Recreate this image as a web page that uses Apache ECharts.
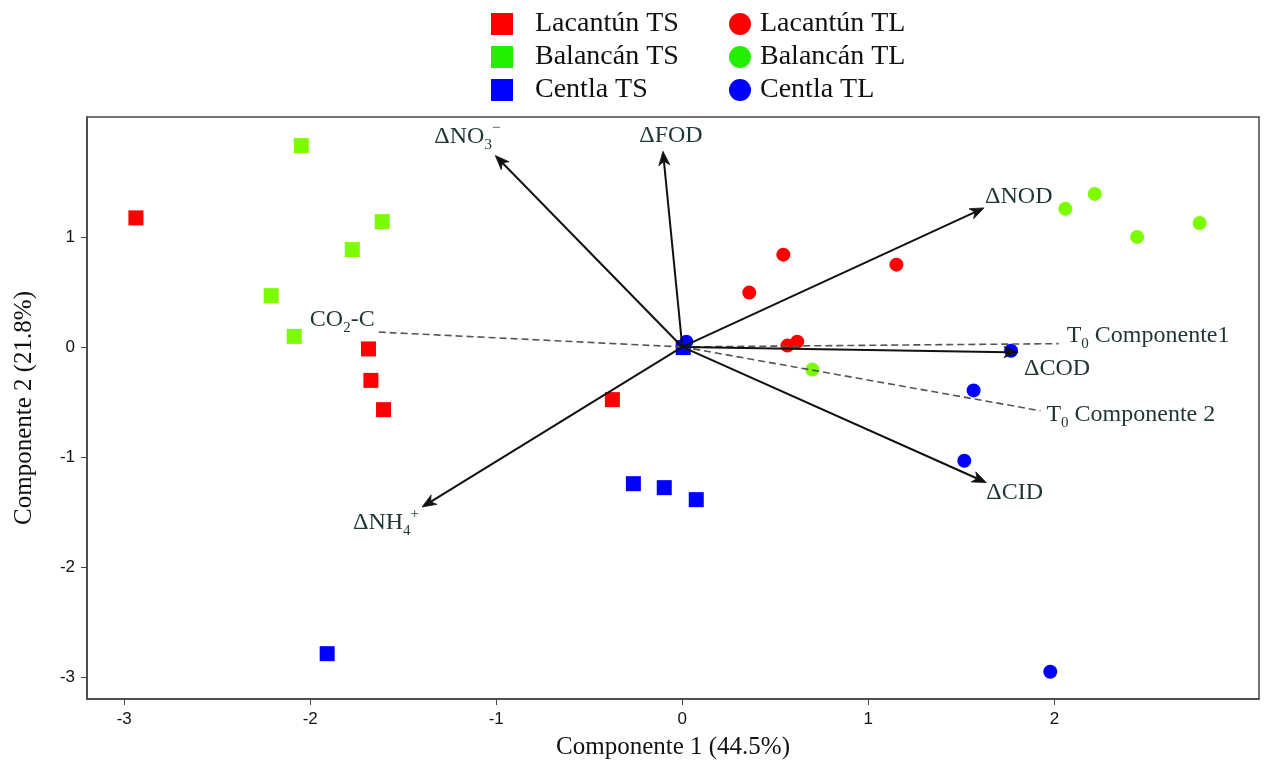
<!DOCTYPE html>
<html><head><meta charset="utf-8">
<script src="https://cdn.jsdelivr.net/npm/echarts@6/dist/echarts.min.js"></script>
<style>html,body{margin:0;padding:0;background:#fff}#c{width:1264px;height:767px}</style>
</head><body><div id="c"></div>
<script>
// ---- data ----
const xTicks = [-3, -2, -1, 0, 1, 2];
const yTicks = [-3, -2, -1, 0, 1];

const lacantunTS = [[-2.937, 1.173], [-1.687, -0.018], [-1.674, -0.304], [-1.606, -0.570], [-0.376, -0.479]];
const balancanTS = [[-2.048, 1.830], [-1.613, 1.139], [-1.774, 0.885], [-2.210, 0.466], [-2.086, 0.096]];
const centlaTS   = [[-0.263, -1.243], [-0.097, -1.279], [0.075, -1.388], [-1.909, -2.788], [0.005, -0.006]];
const lacantunTL = [[0.543, 0.839], [0.360, 0.494], [1.151, 0.748], [0.565, 0.012], [0.618, 0.048]];
const balancanTL = [[2.059, 1.255], [2.217, 1.391], [2.445, 1.000], [2.781, 1.127], [0.699, -0.206]];
const centlaTL   = [[0.022, 0.048], [1.767, -0.034], [1.566, -0.395], [1.516, -1.034], [1.978, -2.952]];

// loading vectors (arrows)
const vectorNames = ['NO3', 'FOD', 'NOD', 'COD', 'CID', 'NH4'];
const vectorX = [-1.005, -0.104, 1.622, 1.805, 1.634, -1.399];
const vectorY = [1.739, 1.778, 1.264, -0.049, -1.233, -1.455];

// supplementary (dashed) vectors
const dashedNames = ['CO2', 'T0C1', 'T0C2'];
const dashedX = [-1.643, 2.023, 1.925];
const dashedY = [0.136, 0.030, -0.580];

// ---- label text & placement (style) ----
const labelStyle = {
  NO3:  { text: '{n|ΔNO}{sub|3}{sup|−}', dx: 5, dy: -19, align: 'right' },
  FOD:  { text: '{n|ΔFOD}', dx: 8, dy: -16, align: 'center' },
  NOD:  { text: '{n|ΔNOD}', dx: 1, dy: -11, align: 'left' },
  COD:  { text: '{n|ΔCOD}', dx: 6, dy: 16, align: 'left' },
  CID:  { text: '{n|ΔCID}', dx: 0, dy: 10, align: 'left' },
  NH4:  { text: '{n|ΔNH}{sub|4}{sup|+}', dx: -3, dy: 16, align: 'right' },
  CO2:  { text: '{n|CO}{sub|2}{n|-C}', dx: -2, dy: -12, align: 'right' },
  T0C1: { text: '{n|T}{sub|0}{n| Componente1}', dx: 8, dy: -8, align: 'left' },
  T0C2: { text: '{n|T}{sub|0}{n| Componente 2}', dx: 6, dy: 4, align: 'left' }
};
const serif = "'Liberation Serif','Times New Roman',serif";
const rich = {
  n: { fontSize: 24, lineHeight: 32, fontFamily: serif, color: '#1f3535', verticalAlign: 'middle' },
  sub: { fontSize: 15, lineHeight: 15, fontFamily: serif, color: '#1f3535', verticalAlign: 'bottom' },
  sup: { fontSize: 15, lineHeight: 15, fontFamily: serif, color: '#1f3535', verticalAlign: 'top' }
};

const RED = '#ff0000', GREEN = '#7cfc00', BLUE = '#0000ff';

function vectorItem(dashed) {
  return function (params, api) {
    const o = api.coord([0, 0]);
    const p = api.coord([api.value(0), api.value(1)]);
    const name = dashed ? dashedNames[params.dataIndex] : vectorNames[params.dataIndex];
    const ls = labelStyle[name];
    const dxv = p[0] - o[0], dyv = p[1] - o[1];
    const len = Math.sqrt(dxv * dxv + dyv * dyv);
    const ux = dxv / len, uy = dyv / len, nx = -uy, ny = ux;
    const children = [];
    if (dashed) {
      children.push({ type: 'line', shape: { x1: o[0], y1: o[1], x2: p[0], y2: p[1] },
        style: { stroke: '#555', lineWidth: 1.6, lineDash: [7, 4] } });
    } else {
      const L = 14, W = 5.5, N = 4;
      const bx = p[0] - (L - N) * ux, by = p[1] - (L - N) * uy;
      children.push({ type: 'line', shape: { x1: o[0], y1: o[1], x2: bx, y2: by },
        style: { stroke: '#111', lineWidth: 2 } });
      children.push({ type: 'polygon', shape: { points: [
        [p[0], p[1]],
        [p[0] - L * ux + W * nx, p[1] - L * uy + W * ny],
        [bx, by],
        [p[0] - L * ux - W * nx, p[1] - L * uy - W * ny]
      ] }, style: { fill: '#111', stroke: '#111', lineWidth: 0.8 } });
    }
    children.push({ type: 'text', x: p[0] + ls.dx, y: p[1] + ls.dy,
      style: { text: ls.text, rich: rich, align: ls.align, verticalAlign: 'middle',
        fontFamily: serif, fontSize: 24, fill: '#1f3535' } });
    return { type: 'group', children: children };
  };
}

function sc(name, data, symbol, color, size) {
  return { name: name, type: 'scatter', data: data, symbol: symbol, symbolSize: size,
    itemStyle: { color: color, opacity: 1 }, z: 2 };
}

const chart = echarts.init(document.getElementById('c'), null, { renderer: 'canvas' });
function legendText(pad) {
  return { fontFamily: serif, fontSize: 28, color: '#111', lineHeight: 22, padding: [0, 0, 0, pad] };
}
chart.setOption({
  animation: false,
  backgroundColor: '#fff',
  grid: { left: 87, right: 5, top: 117, bottom: 68, show: true, borderColor: '#444', borderWidth: 1.5,
    outerBoundsMode: 'none', containLabel: false },
  legend: [
    { orient: 'vertical', left: 491, top: 10, padding: 0, itemWidth: 22, itemHeight: 22, itemGap: 5,
      textStyle: legendText(17),
      data: [
        { name: 'Lacantún TS', icon: 'rect' },
        { name: 'Balancán TS', icon: 'rect', itemStyle: { color: '#22ee00' } },
        { name: 'Centla TS', icon: 'rect' }
      ] },
    { orient: 'vertical', left: 729, top: 10, padding: 0, itemWidth: 22, itemHeight: 22, itemGap: 5,
      textStyle: legendText(4),
      data: [
        { name: 'Lacantún TL', icon: 'circle' },
        { name: 'Balancán TL', icon: 'circle', itemStyle: { color: '#22ee00' } },
        { name: 'Centla TL', icon: 'circle' }
      ] }
  ],
  xAxis: {
    type: 'value', min: -3.2, max: 3.1,
    name: 'Componente 1 (44.5%)', nameLocation: 'middle', nameGap: 36,
    nameTextStyle: { fontFamily: serif, fontSize: 25, color: '#111' },
    axisLine: { show: true, onZero: false, lineStyle: { color: '#444', width: 1.5 } },
    axisTick: { show: true, length: 6, customValues: xTicks, lineStyle: { color: '#444' } },
    axisLabel: { customValues: xTicks, margin: 12, fontFamily: "'Liberation Sans',Arial,sans-serif", fontSize: 17, color: '#111' },
    splitLine: { show: false }
  },
  yAxis: {
    type: 'value', min: -3.2, max: 2.09,
    name: 'Componente 2 (21.8%)', nameLocation: 'middle', nameGap: 50, nameRotate: 90,
    nameTextStyle: { fontFamily: serif, fontSize: 25, color: '#111' },
    axisLine: { show: true, onZero: false, lineStyle: { color: '#444', width: 1.5 } },
    axisTick: { show: true, length: 6, customValues: yTicks, lineStyle: { color: '#444' } },
    axisLabel: { customValues: yTicks, margin: 12, fontFamily: "'Liberation Sans',Arial,sans-serif", fontSize: 17, color: '#111' },
    splitLine: { show: false }
  },
  series: [
    sc('Lacantún TS', lacantunTS, 'rect', RED, 15),
    sc('Balancán TS', balancanTS, 'rect', GREEN, 15),
    sc('Centla TS', centlaTS, 'rect', BLUE, 15),
    sc('Lacantún TL', lacantunTL, 'circle', RED, 14),
    sc('Balancán TL', balancanTL, 'circle', GREEN, 14),
    sc('Centla TL', centlaTL, 'circle', BLUE, 14),
    { type: 'custom', renderItem: vectorItem(true), z: 5, silent: true,
      data: dashedX.map((v, i) => [v, dashedY[i]]) },
    { type: 'custom', renderItem: vectorItem(false), z: 6, silent: true,
      data: vectorX.map((v, i) => [v, vectorY[i]]) }
  ]
});
</script>
</body></html>
